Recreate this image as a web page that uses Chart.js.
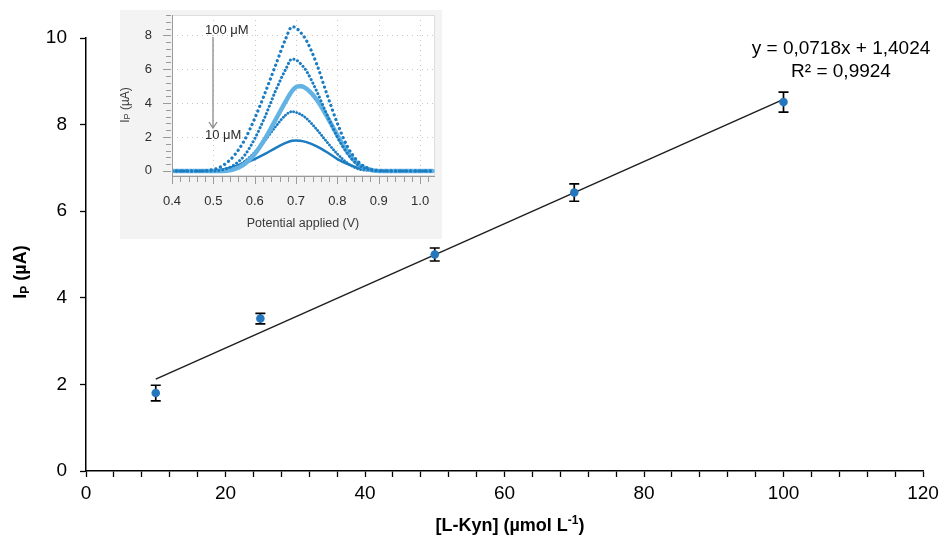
<!DOCTYPE html>
<html><head><meta charset="utf-8">
<script src="https://cdn.jsdelivr.net/npm/chart.js@4.4.0/dist/chart.umd.min.js"></script>
<style>
html,body{margin:0;padding:0;background:#fff;}
#wrap{position:relative;width:943px;height:539px;overflow:hidden;}
#main{position:absolute;left:0;top:0;}
#inset{position:absolute;left:120px;top:10px;background:#f3f3f3;}
</style></head><body>
<div id="wrap">
<canvas id="main" width="943" height="539"></canvas>
<canvas id="inset" width="322" height="229"></canvas>
</div>
<script>
// ---------- main calibration data ----------
const concentrations = [10, 25, 50, 70, 100];
const peakCurrents   = [1.80, 3.52, 5.00, 6.43, 8.52];
const currentErrors  = [0.18, 0.12, 0.15, 0.20, 0.23];
const fitSlope = 0.0718;
const fitIntercept = 1.4024;
const fitRange = [10, 100];
const mainXLabelStep = 20;
const mainYTicks = [0, 2, 4, 6, 8, 10];
const equationText = 'y = 0,0718x + 1,4024';
const r2Text = 'R² = 0,9924';

// ---------- inset voltammograms ----------
const potentials = [0.40,0.45,0.50,0.525,0.55,0.575,0.60,0.625,0.65,0.675,0.69,0.70,0.71,0.725,0.75,0.775,0.80,0.825,0.85,0.875,0.90,0.95,1.00,1.03];
const curve100 = [0,0,0.08,0.35,0.9,1.8,3.1,4.6,6.2,7.8,8.5,8.45,8.2,7.7,6.3,4.5,2.8,1.4,0.55,0.15,0.02,0,0,0];
const curve75  = [0,0,0,0.08,0.35,0.9,1.9,3.2,4.7,6.0,6.6,6.55,6.35,5.9,4.7,3.3,2.0,1.0,0.35,0.08,0,0,0,0];
const curve50  = [0,0,0,0,0.1,0.4,1.0,1.9,3.0,4.1,4.7,4.95,5.0,4.85,4.2,3.2,2.1,1.1,0.4,0.1,0,0,0,0];
const curve25  = [0,0,0,0.05,0.2,0.55,1.1,1.8,2.6,3.3,3.5,3.45,3.35,3.1,2.45,1.7,1.0,0.45,0.12,0.02,0,0,0,0];
const curve10  = [0,0,0.03,0.1,0.25,0.45,0.7,1.0,1.35,1.65,1.78,1.8,1.78,1.7,1.45,1.1,0.7,0.4,0.18,0.06,0.01,0,0,0];
const insetXTicks = [0.4,0.5,0.6,0.7,0.8,0.9,1.0];
const insetYTicks = [0,2,4,6,8];

const FONT = "'Liberation Sans', Arial, sans-serif";

// ---------- main chart ----------
const errorBarPlugin = {
  id: 'errorBars',
  beforeDatasetsDraw(chart) {
    const ctx = chart.ctx, xs = chart.scales.x, ys = chart.scales.y;
    ctx.save();
    ctx.strokeStyle = '#000';
    ctx.lineWidth = 1.7;
    concentrations.forEach((c, i) => {
      const px = xs.getPixelForValue(c);
      const top = ys.getPixelForValue(peakCurrents[i] + currentErrors[i]);
      const bot = ys.getPixelForValue(peakCurrents[i] - currentErrors[i]);
      ctx.beginPath();
      ctx.moveTo(px, top); ctx.lineTo(px, bot);
      ctx.moveTo(px - 5, top); ctx.lineTo(px + 5, top);
      ctx.moveTo(px - 5, bot); ctx.lineTo(px + 5, bot);
      ctx.stroke();
    });
    ctx.restore();
  }
};

const mainTextPlugin = {
  id: 'mainText',
  afterDraw(chart) {
    const ctx = chart.ctx;
    ctx.save();
    ctx.fillStyle = '#000';
    ctx.textBaseline = 'alphabetic';
    // y title
    ctx.translate(26, 272);
    ctx.rotate(-Math.PI / 2);
    const big = 'bold 18px ' + FONT, small = 'bold 12px ' + FONT;
    ctx.font = big; const wI = ctx.measureText('I').width;
    ctx.font = small; const wP = ctx.measureText('P').width;
    ctx.font = big; const wR = ctx.measureText(' (µA)').width;
    let x0 = -(wI + wP + wR) / 2;
    ctx.font = big; ctx.fillText('I', x0, 0);
    ctx.font = small; ctx.fillText('P', x0 + wI, 3);
    ctx.font = big; ctx.fillText(' (µA)', x0 + wI + wP, 0);
    ctx.restore();

    // x title
    ctx.save();
    ctx.fillStyle = '#000';
    ctx.font = big; const a = '[L-Kyn] (µmol L'; const wa = ctx.measureText(a).width;
    ctx.font = small; const wb = ctx.measureText('-1').width;
    ctx.font = big; const wc = ctx.measureText(')').width;
    let sx = 510 - (wa + wb + wc) / 2;
    const by = 531;
    ctx.font = big; ctx.fillText(a, sx, by);
    ctx.font = small; ctx.fillText('-1', sx + wa, by - 7);
    ctx.font = big; ctx.fillText(')', sx + wa + wb, by);

    // equation
    ctx.font = '19px ' + FONT;
    ctx.textAlign = 'center';
    ctx.textBaseline = 'middle';
    ctx.fillText(equationText, 841, 49);
    ctx.fillText(r2Text, 841, 72);
    ctx.restore();
  }
};

new Chart(document.getElementById('main'), {
  type: 'scatter',
  data: {
    datasets: [
      {
        type: 'scatter',
        data: concentrations.map((c, i) => ({ x: c, y: peakCurrents[i] })),
        backgroundColor: '#2477bd',
        borderColor: '#2477bd',
        borderWidth: 0,
        pointRadius: 4.3,
        order: 1
      },
      {
        type: 'line',
        data: fitRange.map(x => ({ x: x, y: fitSlope * x + fitIntercept })),
        borderColor: '#1e1e1e',
        borderWidth: 1.5,
        pointRadius: 0,
        fill: false,
        order: 2
      }
    ]
  },
  options: {
    responsive: false,
    animation: false,
    events: [],
    layout: { padding: { left: 0, right: 20, top: 38, bottom: 0 } },
    plugins: { legend: { display: false }, tooltip: { enabled: false } },
    scales: {
      x: {
        type: 'linear', min: 0, max: 120,
        afterFit: s => { s.height = 68; s.paddingLeft = 0; s.paddingRight = 0; },
        ticks: {
          stepSize: 4, autoSkip: false, maxRotation: 0, padding: 5,
          color: '#000', font: { family: FONT, size: 19 },
          callback: v => (v % mainXLabelStep === 0 ? String(v) : '')
        },
        grid: { display: true, drawOnChartArea: false, drawTicks: true, tickLength: 6, tickColor: '#000', tickWidth: 1.3, color: '#000' },
        border: { display: true, color: '#000', width: 1.5 }
      },
      y: {
        type: 'linear', min: 0, max: 10,
        afterFit: s => { s.width = 86; s.paddingTop = 0; s.paddingBottom = 0; },
        afterBuildTicks: s => { s.ticks = mainYTicks.map(v => ({ value: v })); },
        ticks: {
          padding: 13, color: '#000', font: { family: FONT, size: 19 },
          callback: v => String(v)
        },
        grid: { display: true, drawOnChartArea: false, drawTicks: true, tickLength: 6, tickColor: '#000', tickWidth: 1.3, color: '#000' },
        border: { display: true, color: '#000', width: 1.5 }
      }
    }
  },
  plugins: [errorBarPlugin, mainTextPlugin]
});

// ---------- inset chart ----------
const DARK = '#1b7cc2', LIGHT = '#62b3e4';
const insetDecor = {
  id: 'insetDecor',
  beforeDatasetsDraw(chart) {
    const ctx = chart.ctx, a = chart.chartArea, xs = chart.scales.x, ys = chart.scales.y;
    ctx.save();
    ctx.fillStyle = '#ffffff';
    ctx.fillRect(a.left, a.top, a.right - a.left, a.bottom - a.top);
    ctx.strokeStyle = '#c8c8c8';
    ctx.lineWidth = 1;
    ctx.setLineDash([1, 4]);
    insetYTicks.forEach(v => {
      if (v === 0) return;
      const y = Math.round(ys.getPixelForValue(v)) + 0.5;
      ctx.beginPath(); ctx.moveTo(a.left, y); ctx.lineTo(a.right, y); ctx.stroke();
    });
    insetXTicks.forEach(v => {
      if (v === 0.4) return;
      const x = Math.round(xs.getPixelForValue(v)) + 0.5;
      ctx.beginPath(); ctx.moveTo(x, a.top); ctx.lineTo(x, a.bottom); ctx.stroke();
    });
    ctx.setLineDash([]);
    ctx.strokeStyle = '#dddddd';
    ctx.strokeRect(a.left + 0.5, a.top + 0.5, a.right - a.left - 1, a.bottom - a.top - 1);
    ctx.restore();
  },
  afterDatasetsDraw(chart) {
    const ctx = chart.ctx, a = chart.chartArea, xs = chart.scales.x, ys = chart.scales.y;
    ctx.save();
    ctx.strokeStyle = '#9a9a9a';
    ctx.lineWidth = 1;
    ctx.beginPath();
    ctx.moveTo(a.left + 0.5, a.top); ctx.lineTo(a.left + 0.5, a.bottom);
    ctx.moveTo(a.left, a.bottom + 0.5); ctx.lineTo(a.right, a.bottom + 0.5);
    ctx.stroke();
    for (let i = 0; i <= 31; i++) {
      const v = 0.4 + i * 0.02;
      const x = Math.round(xs.getPixelForValue(v)) + 0.5;
      const major = i % 5 === 0;
      ctx.beginPath(); ctx.moveTo(x, a.bottom + 1); ctx.lineTo(x, a.bottom + (major ? 8 : 6)); ctx.stroke();
    }
    for (let i = 0; i <= 23; i++) {
      const v = i * 0.4;
      const y = Math.round(ys.getPixelForValue(v)) + 0.5;
      const major = i % 5 === 0;
      ctx.beginPath(); ctx.moveTo(a.left - (major ? 9 : 6), y); ctx.lineTo(a.left - 1, y); ctx.stroke();
    }
    ctx.strokeStyle = '#8a8a8a';
    ctx.lineWidth = 1.3;
    ctx.beginPath(); ctx.moveTo(93, 27); ctx.lineTo(93, 117); ctx.stroke();
    ctx.beginPath(); ctx.moveTo(89, 112); ctx.lineTo(93, 118); ctx.lineTo(97, 112); ctx.stroke();
    ctx.fillStyle = '#2a2a2a';
    ctx.font = '13px ' + FONT;
    ctx.textBaseline = 'middle';
    ctx.fillText('100 μM', 85, 20);
    ctx.fillText('10 μM', 85, 125);
    ctx.fillStyle = '#3a3a3a';
    ctx.textAlign = 'center';
    ctx.font = '12.5px ' + FONT;
    ctx.fillText('Potential applied (V)', 183, 214);
    ctx.translate(9, 95);
    ctx.rotate(-Math.PI / 2);
    ctx.textAlign = 'left';
    ctx.textBaseline = 'alphabetic';
    ctx.font = '12px ' + FONT; const wI = ctx.measureText('I').width;
    ctx.font = '9px ' + FONT; const wP = ctx.measureText('P').width;
    ctx.font = '12px ' + FONT; const wR = ctx.measureText(' (µA)').width;
    const x0 = -(wI + wP + wR) / 2;
    ctx.font = '12px ' + FONT; ctx.fillText('I', x0, 0);
    ctx.font = '9px ' + FONT; ctx.fillText('P', x0 + wI, 1);
    ctx.font = '12px ' + FONT; ctx.fillText(' (µA)', x0 + wI + wP, 0);
    ctx.restore();
  }
};

function curveDataset(values, color, width, dash) {
  return {
    data: potentials.map((p, i) => ({ x: p, y: values[i] })),
    borderColor: color,
    borderWidth: width,
    borderDash: dash,
    borderCapStyle: 'round',
    pointRadius: 0,
    fill: false,
    cubicInterpolationMode: 'monotone'
  };
}

new Chart(document.getElementById('inset'), {
  type: 'line',
  data: {
    datasets: [
      curveDataset(curve100, DARK, 3.2, [0.1, 4.8]),
      curveDataset(curve75, DARK, 3.0, [0.1, 3.8]),
      curveDataset(curve50, LIGHT, 4.5, [3, 1.2]),
      curveDataset(curve25, DARK, 2.8, [0.1, 3.0]),
      curveDataset(curve10, DARK, 2.5, [])
    ]
  },
  options: {
    responsive: false,
    animation: false,
    events: [],
    layout: { padding: { left: 0, right: 7, top: 5, bottom: 0 } },
    plugins: { legend: { display: false }, tooltip: { enabled: false } },
    scales: {
      x: {
        type: 'linear', min: 0.4, max: 1.036,
        afterFit: s => { s.height = 63; s.paddingLeft = 0; s.paddingRight = 0; },
        afterBuildTicks: s => { s.ticks = insetXTicks.map(v => ({ value: v })); },
        ticks: { padding: 18, maxRotation: 0, autoSkip: false, color: '#2e2e2e', font: { family: FONT, size: 13 }, callback: v => Number(v).toFixed(1) },
        grid: { display: false, drawTicks: false },
        border: { display: false }
      },
      y: {
        type: 'linear', min: -0.3, max: 9.2,
        afterFit: s => { s.width = 52; s.paddingTop = 0; s.paddingBottom = 0; },
        afterBuildTicks: s => { s.ticks = insetYTicks.map(v => ({ value: v })); },
        ticks: { padding: 20, color: '#2e2e2e', font: { family: FONT, size: 13 }, callback: v => String(v) },
        grid: { display: false, drawTicks: false },
        border: { display: false }
      }
    }
  },
  plugins: [insetDecor]
});
</script>
</body></html>
